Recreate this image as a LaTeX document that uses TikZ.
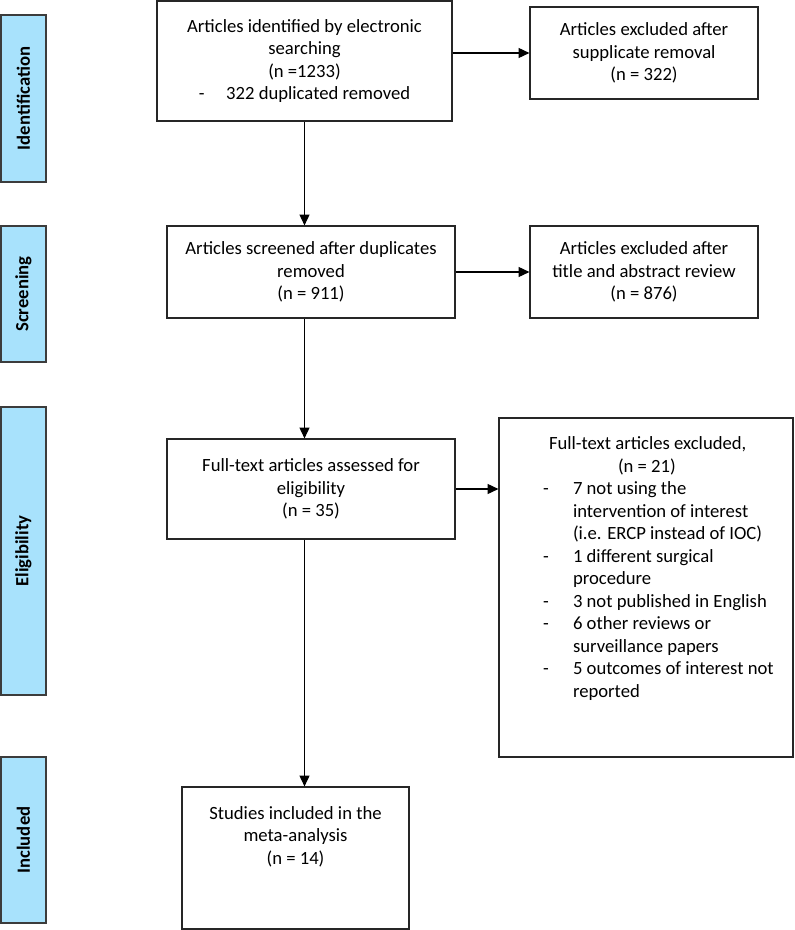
\documentclass[tikz,border=0pt]{standalone}
\usepackage{fontspec}
\setmainfont{Carlito}
\usetikzlibrary{arrows.meta}

\definecolor{stageblue}{RGB}{168,226,252}
\definecolor{stageline}{RGB}{60,60,60}

\newcommand{\excldash}[1]{\hspace*{26.4pt}\makebox[18pt][l]{-}#1}
\newcommand{\exclcont}[1]{\hspace*{44.4pt}#1}

\begin{document}
\begin{tikzpicture}[x=0.6pt, y=-0.6pt,
    box/.style={draw=black!85, line width=0.7pt, align=center, inner sep=0pt,
        font=\fontsize{11.2}{13.5}\selectfont},
    stage/.style={draw=stageline, line width=0.7pt, fill=stageblue, rotate=90,
        minimum height=27pt, inner sep=0pt, font=\fontsize{11.2}{13.5}\selectfont\bfseries},
    arrow/.style={line width=0.7pt, -{Triangle[length=6.5pt, width=6pt]}}]
    \useasboundingbox (0,0) rectangle (794,930);

    % stages on the left
    \node[stage, minimum width=100.2pt] (sid) at (23.5,98.5) {Identification};
    \node[stage, minimum width=81.6pt] (sscr) at (23.5,294) {Screening};
    \node[stage, minimum width=172.8pt] (selig) at (23.5,551) {Eligibility};
    \node[stage, minimum width=99.6pt] (sinc) at (23.5,840) {Included};

    % main boxes
    \node[box, minimum width=177pt, minimum height=72pt] (ident) at (304.5,61)
        {Articles identified by electronic\\ searching\\ (n =1233)\\
         -\hspace{13pt}322 duplicated removed};
    \node[box, minimum width=136.8pt, minimum height=55.2pt] (dupl) at (644,53)
        {Articles excluded after\\ supplicate removal\\ (n = 322)};
    \node[box, minimum width=172.8pt, minimum height=55.2pt] (screen) at (311,272)
        {Articles screened after duplicates\\ removed\\ (n = 911)};
    \node[box, minimum width=136.8pt, minimum height=55.2pt] (title) at (644,272)
        {Articles excluded after\\ title and abstract review\\ (n = 876)};
    \node[box, minimum width=172.8pt, minimum height=60pt] (full) at (311,489)
        {Full-text articles assessed for\\ eligibility\\ (n = 35)};
    \node[box, align=left] (fullex) at (646,587.5)
        {\parbox[c][203.4pt][t]{176.4pt}{\raggedright\fontsize{11.2}{13.5}\selectfont
         \vspace*{11.4pt}%
         \hspace*{30pt}Full-text articles excluded,\\
         \hspace*{71.4pt}(n = 21)\\
         \excldash{7 not using the}\\
         \exclcont{intervention of interest}\\
         \exclcont{(i.e. ERCP instead of IOC)}\\
         \excldash{1 different surgical}\\
         \exclcont{procedure}\\
         \excldash{3 not published in English}\\
         \excldash{6 other reviews or}\\
         \exclcont{surveillance papers}\\
         \excldash{5 outcomes of interest not}\\
         \exclcont{reported}}};
    \node[box] (incl) at (295.5,858)
        {\parbox[c][85.2pt][t]{136.2pt}{\centering\fontsize{11.2}{13.5}\selectfont
         \vspace*{11.6pt}%
         Studies included in the\\ meta-analysis\\ (n = 14)}};

    % arrows
    \draw[arrow] (ident.south) -- (ident.south |- screen.north);
    \draw[arrow] (screen.south -| ident.south) -- (full.north -| ident.south);
    \draw[arrow] (full.south -| ident.south) -- (incl.north -| ident.south);
    \draw[arrow] (ident.east |- dupl.west) -- (dupl.west);
    \draw[arrow] (screen.east) -- (title.west);
    \draw[arrow] (full.east) -- (full.east -| fullex.west);
\end{tikzpicture}
\end{document}
